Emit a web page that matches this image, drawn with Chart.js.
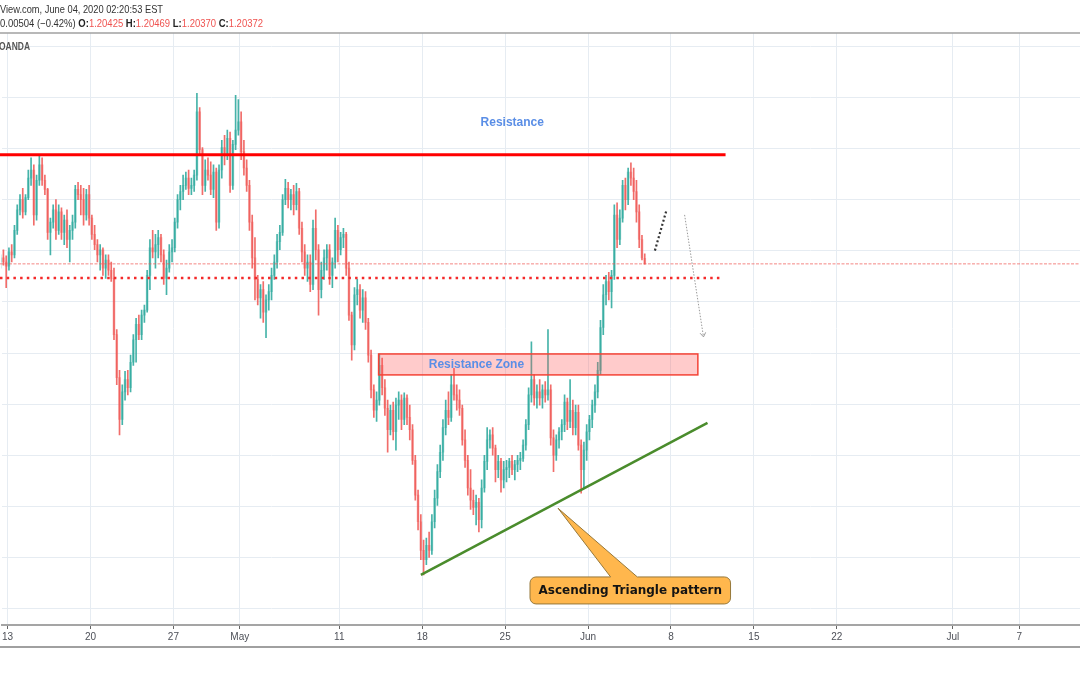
<!DOCTYPE html>
<html>
<head>
<meta charset="utf-8">
<title>GBP/CHF 4h – Ascending Triangle</title>
<script src="https://cdn.jsdelivr.net/npm/chart.js@4.4.1/dist/chart.umd.min.js"></script>
<style>
  html, body { margin: 0; padding: 0; background: #ffffff; }
  canvas { display: block; }
</style>
</head>
<body>
<canvas id="myChart" width="1080" height="675"></canvas>
<script>
/* globals Chart:false */
"use strict";

// 4-hour candles, six per trading day. Day 0 = Mon Apr 13 2020,
// first bar is the 4th session of Fri Apr 10 (day -1).
const firstDay = -1;
const firstSession = 3;
const sessionsPerDay = 6;

const opens = [
  1.2039, 1.2043, 1.2039,
  1.2035, 1.2049, 1.2046, 1.2070, 1.2090, 1.2100,
  1.2088, 1.2102, 1.2121, 1.2129, 1.2085, 1.2119,
  1.2134, 1.2119, 1.2110, 1.2068, 1.2078, 1.2090,
  1.2070, 1.2088, 1.2068, 1.2080, 1.2061, 1.2070,
  1.2078, 1.2110, 1.2105, 1.2100, 1.2085, 1.2105,
  1.2082, 1.2066, 1.2056, 1.2046, 1.2051, 1.2033,
  1.2041, 1.2031, 1.2023, 1.1968, 1.1926, 1.1885,
  1.1912, 1.1924, 1.1916, 1.1941, 1.1963, 1.1978,
  1.1968, 1.1987, 1.1992, 1.2026, 1.2053, 1.2049,
  1.2056, 1.2063, 1.2046, 1.2023, 1.2033, 1.2049,
  1.2053, 1.2078, 1.2100, 1.2108, 1.2114, 1.2121,
  1.2111, 1.2114, 1.2124, 1.2186, 1.2149, 1.2114,
  1.2129, 1.2124, 1.2110, 1.2127, 1.2078, 1.2129,
  1.2151, 1.2144, 1.2160, 1.2114, 1.2154, 1.2168,
  1.2176, 1.2147, 1.2131, 1.2114, 1.2078, 1.2043,
  1.2022, 1.2004, 1.2012, 1.1990, 1.2002, 1.2010,
  1.2026, 1.2039, 1.2059, 1.2068, 1.2100, 1.2111,
  1.2100, 1.2105, 1.2095, 1.2108, 1.2072, 1.2049,
  1.2033, 1.2039, 1.2017, 1.2072, 1.2051, 1.2012,
  1.2031, 1.2043, 1.2051, 1.2026, 1.2039, 1.2070,
  1.2051, 1.2063, 1.2066, 1.2033, 1.1987, 1.1958,
  1.2007, 1.2012, 1.1992, 1.2004, 1.1980, 1.1948,
  1.1914, 1.1894, 1.1904, 1.1938, 1.1916, 1.1896,
  1.1875, 1.1894, 1.1873, 1.1899, 1.1904, 1.1885,
  1.1906, 1.1887, 1.1875, 1.1845, 1.1811, 1.1785,
  1.1757, 1.1748, 1.1762, 1.1757, 1.1785, 1.1808,
  1.1834, 1.1853, 1.1877, 1.1894, 1.1887, 1.1919,
  1.1909, 1.1904, 1.1896, 1.1865, 1.1845, 1.1818,
  1.1806, 1.1799, 1.1804, 1.1787, 1.1818, 1.1844,
  1.1865, 1.1870, 1.1857, 1.1836, 1.1844, 1.1826,
  1.1836, 1.1838, 1.1844, 1.1836, 1.1841, 1.1845,
  1.1847, 1.1860, 1.1880, 1.1909, 1.1924, 1.1906,
  1.1912, 1.1906, 1.1914, 1.1909, 1.1914, 1.1867,
  1.1850, 1.1865, 1.1873, 1.1880, 1.1902, 1.1883,
  1.1894, 1.1877, 1.1892, 1.1860, 1.1836, 1.1855,
  1.1873, 1.1885, 1.1899, 1.1912, 1.1933, 1.1975,
  1.2007, 1.2020, 1.2010, 1.2026, 1.2085, 1.2061,
  1.2082, 1.2114, 1.2100, 1.2127, 1.2121, 1.2108,
  1.2088, 1.2061, 1.20425,
];

const highs = [
  1.2046, 1.2051, 1.2045,
  1.2053, 1.2056, 1.2075, 1.2095, 1.2105, 1.2111,
  1.2105, 1.2129, 1.2141, 1.2134, 1.2124, 1.2144,
  1.2141, 1.2124, 1.2111, 1.2082, 1.2095, 1.2100,
  1.2095, 1.2092, 1.2085, 1.2090, 1.2075, 1.2085,
  1.2114, 1.2117, 1.2114, 1.2111, 1.2110, 1.2114,
  1.2085, 1.2075, 1.2061, 1.2056, 1.2053, 1.2046,
  1.2046, 1.2039, 1.2033, 1.1973, 1.1933, 1.1919,
  1.1932, 1.1933, 1.1948, 1.1968, 1.1984, 1.1987,
  1.1992, 1.1997, 1.2031, 1.2061, 1.2070, 1.2066,
  1.2070, 1.2066, 1.2051, 1.2041, 1.2056, 1.2061,
  1.2082, 1.2105, 1.2114, 1.2124, 1.2127, 1.2129,
  1.2121, 1.2129, 1.2204, 1.2190, 1.2151, 1.2139,
  1.2141, 1.2137, 1.2134, 1.2131, 1.2134, 1.2158,
  1.2163, 1.2168, 1.2166, 1.2158, 1.2202, 1.2198,
  1.2186, 1.2158, 1.2139, 1.2119, 1.2085, 1.2063,
  1.2026, 1.2017, 1.2020, 1.2007, 1.2017, 1.2033,
  1.2046, 1.2066, 1.2075, 1.2105, 1.2120, 1.2117,
  1.2110, 1.2114, 1.2116, 1.2111, 1.2078, 1.2056,
  1.2046, 1.2046, 1.2080, 1.2090, 1.2056, 1.2039,
  1.2051, 1.2056, 1.2056, 1.2043, 1.2082, 1.2075,
  1.2068, 1.2072, 1.2068, 1.2039, 1.1990, 1.2014,
  1.2022, 1.2017, 1.2012, 1.2010, 1.1984, 1.1953,
  1.1919, 1.1912, 1.1949, 1.1945, 1.1924, 1.1904,
  1.1899, 1.1902, 1.1906, 1.1912, 1.1909, 1.1911,
  1.1909, 1.1899, 1.1880, 1.1850, 1.1816, 1.1792,
  1.1767, 1.1769, 1.1775, 1.1792, 1.1816, 1.1841,
  1.1860, 1.1885, 1.1904, 1.1912, 1.1929, 1.1935,
  1.1919, 1.1914, 1.1899, 1.1875, 1.1850, 1.1836,
  1.1816, 1.1811, 1.1808, 1.1826, 1.1850, 1.1877,
  1.1875, 1.1877, 1.1860, 1.1850, 1.1847, 1.1844,
  1.1845, 1.1847, 1.1850, 1.1845, 1.1850, 1.1853,
  1.1865, 1.1885, 1.1916, 1.1961, 1.1929, 1.1919,
  1.1924, 1.1919, 1.1922, 1.1973, 1.1919, 1.1875,
  1.1870, 1.1877, 1.1885, 1.1909, 1.1906, 1.1924,
  1.1904, 1.1899, 1.1899, 1.1865, 1.1863, 1.1880,
  1.1889, 1.1904, 1.1919, 1.1941, 1.1982, 1.2017,
  1.2026, 1.2029, 1.2031, 1.2095, 1.2097, 1.2090,
  1.2119, 1.2121, 1.2131, 1.2136, 1.2131, 1.2119,
  1.2095, 1.2065, 1.20469,
];

const lows = [
  1.2033, 1.2036, 1.2014,
  1.2031, 1.2039, 1.2043, 1.2066, 1.2085, 1.2082,
  1.2085, 1.2100, 1.2114, 1.2075, 1.2080, 1.2114,
  1.2114, 1.2105, 1.2061, 1.2046, 1.2072, 1.2061,
  1.2066, 1.2061, 1.2056, 1.2053, 1.2039, 1.2061,
  1.2072, 1.2100, 1.2085, 1.2075, 1.2080, 1.2075,
  1.2061, 1.2051, 1.2039, 1.2031, 1.2026, 1.2023,
  1.2026, 1.2020, 1.1963, 1.1919, 1.1870, 1.1880,
  1.1904, 1.1909, 1.1912, 1.1938, 1.1941, 1.1963,
  1.1963, 1.1980, 1.1990, 1.2012, 1.2043, 1.2033,
  1.2043, 1.2039, 1.2017, 1.2007, 1.2029, 1.2039,
  1.2049, 1.2072, 1.2090, 1.2100, 1.2110, 1.2105,
  1.2105, 1.2108, 1.2119, 1.2144, 1.2105, 1.2108,
  1.2119, 1.2105, 1.2102, 1.2070, 1.2072, 1.2121,
  1.2134, 1.2139, 1.2107, 1.2110, 1.2149, 1.2163,
  1.2139, 1.2124, 1.2108, 1.2070, 1.2033, 1.2002,
  1.1997, 1.1984, 1.1980, 1.1965, 1.1992, 1.2002,
  1.2022, 1.2033, 1.2051, 1.2065, 1.2095, 1.2092,
  1.2090, 1.2085, 1.2090, 1.2066, 1.2039, 1.2026,
  1.2020, 1.2010, 1.2012, 1.2041, 1.1987, 1.2004,
  1.2022, 1.2031, 1.2017, 1.2014, 1.2033, 1.2039,
  1.2046, 1.2053, 1.2026, 1.1982, 1.1943, 1.1953,
  1.1997, 1.1984, 1.1980, 1.1973, 1.1941, 1.1906,
  1.1887, 1.1883, 1.1899, 1.1909, 1.1889, 1.1853,
  1.1870, 1.1865, 1.1855, 1.1885, 1.1875, 1.1880,
  1.1880, 1.1865, 1.1841, 1.1806, 1.1777, 1.1748,
  1.1733, 1.1743, 1.1750, 1.1753, 1.1779, 1.1801,
  1.1828, 1.1845, 1.1870, 1.1880, 1.1883, 1.1904,
  1.1894, 1.1889, 1.1860, 1.1838, 1.1811, 1.1797,
  1.1792, 1.1782, 1.1775, 1.1779, 1.1814, 1.1836,
  1.1857, 1.1850, 1.1824, 1.1828, 1.1814, 1.1818,
  1.1824, 1.1828, 1.1831, 1.1826, 1.1834, 1.1836,
  1.1844, 1.1855, 1.1875, 1.1902, 1.1899, 1.1896,
  1.1899, 1.1896, 1.1902, 1.1904, 1.1860, 1.1834,
  1.1845, 1.1857, 1.1865, 1.1873, 1.1875, 1.1877,
  1.1870, 1.1870, 1.1855, 1.1813, 1.1818, 1.1845,
  1.1865, 1.1877, 1.1892, 1.1906, 1.1929, 1.1968,
  1.1997, 1.2002, 1.1994, 1.2022, 1.2053, 1.2056,
  1.2078, 1.2090, 1.2095, 1.2114, 1.2100, 1.2078,
  1.2053, 1.2041, 1.20370,
];

const closes = [
  1.2043, 1.2039, 1.2035,
  1.2049, 1.2046, 1.2070, 1.2090, 1.2100, 1.2088,
  1.2102, 1.2121, 1.2129, 1.2085, 1.2119, 1.2134,
  1.2119, 1.2110, 1.2068, 1.2078, 1.2090, 1.2070,
  1.2088, 1.2068, 1.2080, 1.2061, 1.2070, 1.2078,
  1.2110, 1.2105, 1.2100, 1.2085, 1.2105, 1.2082,
  1.2066, 1.2056, 1.2046, 1.2051, 1.2033, 1.2041,
  1.2031, 1.2023, 1.1968, 1.1926, 1.1885, 1.1912,
  1.1924, 1.1916, 1.1941, 1.1963, 1.1978, 1.1968,
  1.1987, 1.1992, 1.2026, 1.2053, 1.2049, 1.2056,
  1.2063, 1.2046, 1.2023, 1.2033, 1.2049, 1.2053,
  1.2078, 1.2100, 1.2108, 1.2114, 1.2121, 1.2111,
  1.2114, 1.2124, 1.2186, 1.2149, 1.2114, 1.2129,
  1.2124, 1.2110, 1.2127, 1.2078, 1.2129, 1.2151,
  1.2144, 1.2160, 1.2114, 1.2154, 1.2168, 1.2176,
  1.2147, 1.2131, 1.2114, 1.2078, 1.2043, 1.2022,
  1.2004, 1.2012, 1.1990, 1.2002, 1.2010, 1.2026,
  1.2039, 1.2059, 1.2068, 1.2100, 1.2111, 1.2100,
  1.2105, 1.2095, 1.2108, 1.2072, 1.2049, 1.2033,
  1.2039, 1.2017, 1.2072, 1.2051, 1.2012, 1.2031,
  1.2043, 1.2051, 1.2026, 1.2039, 1.2070, 1.2051,
  1.2063, 1.2066, 1.2033, 1.1987, 1.1958, 1.2007,
  1.2012, 1.1992, 1.2004, 1.1980, 1.1948, 1.1914,
  1.1894, 1.1904, 1.1938, 1.1916, 1.1896, 1.1875,
  1.1894, 1.1873, 1.1899, 1.1904, 1.1885, 1.1906,
  1.1887, 1.1875, 1.1845, 1.1811, 1.1785, 1.1757,
  1.1748, 1.1762, 1.1757, 1.1785, 1.1808, 1.1834,
  1.1853, 1.1877, 1.1894, 1.1887, 1.1919, 1.1909,
  1.1904, 1.1896, 1.1865, 1.1845, 1.1818, 1.1806,
  1.1799, 1.1804, 1.1787, 1.1818, 1.1844, 1.1865,
  1.1870, 1.1857, 1.1836, 1.1844, 1.1826, 1.1836,
  1.1838, 1.1844, 1.1836, 1.1841, 1.1845, 1.1847,
  1.1860, 1.1880, 1.1909, 1.1924, 1.1906, 1.1912,
  1.1906, 1.1914, 1.1909, 1.1914, 1.1867, 1.1850,
  1.1865, 1.1873, 1.1880, 1.1902, 1.1883, 1.1894,
  1.1877, 1.1892, 1.1860, 1.1836, 1.1855, 1.1873,
  1.1885, 1.1899, 1.1912, 1.1933, 1.1975, 1.2007,
  1.2020, 1.2010, 1.2026, 1.2085, 1.2061, 1.2082,
  1.2114, 1.2100, 1.2127, 1.2121, 1.2108, 1.2088,
  1.2061, 1.2043, 1.20372,
];

// x axis: trading-day index of each labelled tick
const tickDays = [0, 5, 10, 14, 20, 25, 30, 35, 40, 45, 50, 57, 61];
const tickLabels = ["13", "20", "27", "May", "11", "18", "25", "Jun", "8", "15", "22", "Jul", "7"];
const priceGrid = [1.170, 1.175, 1.180, 1.185, 1.190, 1.195, 1.200, 1.205, 1.210, 1.215, 1.220, 1.225];

// drawings (day index, price)
const resistanceLevel = 1.2144;
const supportLevel = 1.20235;
const zone = { from: 22.37, to: 41.62, top: 1.19491, bottom: 1.19286 };
const trendLine = [[24.92, 1.1733], [42.20, 1.18817]];
const bounceDots = [[39.03, 1.20502], [39.72, 1.20893]];
const dropArrow = [[40.82, 1.20851], [41.96, 1.19658]];
const callout = { left: 31.5, right: 43.59, top: 1.1731, bottom: 1.17046, tip: [33.19, 1.17982], base: [36.36, 37.97] };

const headerLine1 = "View.com, June 04, 2020 02:20:53 EST";
const headerChange = "0.00504 (\u22120.42%)";
const exchangeName = "OANDA";

(() => {
  const UP = "rgba(38,166,154,0.85)";
  const DOWN = "rgba(239,83,80,0.85)";
  const UP_BODY = "rgba(38,166,154,0.42)";
  const DOWN_BODY = "rgba(239,83,80,0.42)";
  const GRID = "#e6ecf2";

  const barDay = closes.map((_, i) => firstDay + (firstSession + i + 0.5) / sessionsPerDay);
  const isUp = closes.map((c, i) => c >= opens[i]);

  const bodies = {
    label: "body",
    data: closes.map((c, i) => ({ x: barDay[i], y: [opens[i], c] })),
    backgroundColor: isUp.map((u) => (u ? UP_BODY : DOWN_BODY)),
    barThickness: 2,
    minBarLength: 1,
    grouped: false,
  };
  const wicks = {
    label: "wick",
    data: closes.map((c, i) => ({ x: barDay[i], y: [lows[i], highs[i]] })),
    backgroundColor: isUp.map((u) => (u ? UP : DOWN)),
    barThickness: 1,
    grouped: false,
  };

  function line(ctx, x0, y0, x1, y1) {
    ctx.beginPath();
    ctx.moveTo(x0, y0);
    ctx.lineTo(x1, y1);
    ctx.stroke();
  }

  function squeezed(ctx, parts, x, y, width) {
    let total = 0;
    parts.forEach((p) => {
      ctx.font = p.font;
      total += ctx.measureText(p.text).width;
    });
    const sx = width / total;
    ctx.save();
    ctx.translate(x, y);
    ctx.scale(sx, 1);
    let cx = 0;
    parts.forEach((p) => {
      ctx.font = p.font;
      ctx.fillStyle = p.color;
      ctx.fillText(p.text, cx, 0);
      cx += ctx.measureText(p.text).width;
    });
    ctx.restore();
  }

  const drawings = {
    id: "drawings",
    afterDatasetsDraw(chart) {
      const { ctx, chartArea: area, scales, width } = chart;
      const X = (v) => scales.x.getPixelForValue(v);
      const Y = (v) => scales.y.getPixelForValue(v);
      ctx.save();
      ctx.beginPath();
      ctx.rect(0, area.top, width, area.bottom - area.top);
      ctx.clip();

      // last price line
      ctx.strokeStyle = "rgba(239,83,80,0.7)";
      ctx.lineWidth = 1;
      ctx.setLineDash([3, 1.5]);
      const lp = Y(closes[closes.length - 1]);
      line(ctx, 0, lp, width, lp);

      // support dotted line
      ctx.strokeStyle = "#f42a2a";
      ctx.lineWidth = 2.5;
      ctx.setLineDash([2.5, 4.2]);
      line(ctx, 0, Y(supportLevel), X(43.11), Y(supportLevel));

      // resistance
      ctx.setLineDash([]);
      ctx.strokeStyle = "#ff0000";
      ctx.lineWidth = 3;
      line(ctx, 0, Y(resistanceLevel), X(43.29), Y(resistanceLevel));

      // resistance zone
      const zl = X(zone.from), zr = X(zone.to), zt = Y(zone.top), zb = Y(zone.bottom);
      ctx.fillStyle = "rgba(255,82,82,0.3)";
      ctx.fillRect(zl, zt, zr - zl, zb - zt);
      ctx.strokeStyle = "#f44336";
      ctx.lineWidth = 1.5;
      ctx.strokeRect(zl, zt, zr - zl, zb - zt);

      // ascending trend line
      ctx.strokeStyle = "#4a8c2c";
      ctx.lineWidth = 2.5;
      line(ctx, X(trendLine[0][0]), Y(trendLine[0][1]), X(trendLine[1][0]), Y(trendLine[1][1]));

      // small bounce path
      ctx.strokeStyle = "#333333";
      ctx.lineWidth = 2.2;
      ctx.setLineDash([2, 2.3]);
      line(ctx, X(bounceDots[0][0]), Y(bounceDots[0][1]), X(bounceDots[1][0]), Y(bounceDots[1][1]));

      // projected drop arrow
      const ax0 = X(dropArrow[0][0]), ay0 = Y(dropArrow[0][1]);
      const ax1 = X(dropArrow[1][0]), ay1 = Y(dropArrow[1][1]);
      ctx.strokeStyle = "#9a9a9a";
      ctx.lineWidth = 1;
      ctx.setLineDash([1.5, 1.5]);
      line(ctx, ax0, ay0, ax1, ay1);
      ctx.setLineDash([]);
      const ang = Math.atan2(ay1 - ay0, ax1 - ax0);
      [0.6, -0.6].forEach((da) => {
        line(ctx, ax1, ay1, ax1 - 5 * Math.cos(ang + da), ay1 - 5 * Math.sin(ang + da));
      });

      // labels
      ctx.fillStyle = "#5a8ee6";
      ctx.font = "bold 12px 'Liberation Sans', Arial, sans-serif";
      ctx.textAlign = "center";
      ctx.textBaseline = "middle";
      ctx.fillText("Resistance", X(30.43), Y(1.21751));
      ctx.fillText("Resistance Zone", X(28.27), Y(1.1939));

      // callout
      const l = X(callout.left), r = X(callout.right), t = Y(callout.top), b = Y(callout.bottom);
      const rad = 6;
      ctx.beginPath();
      ctx.moveTo(l + rad, t);
      ctx.lineTo(X(callout.base[0]), t);
      ctx.lineTo(X(callout.tip[0]), Y(callout.tip[1]));
      ctx.lineTo(X(callout.base[1]), t);
      ctx.arcTo(r, t, r, b, rad);
      ctx.arcTo(r, b, l, b, rad);
      ctx.arcTo(l, b, l, t, rad);
      ctx.arcTo(l, t, r, t, rad);
      ctx.closePath();
      ctx.fillStyle = "#ffb74d";
      ctx.fill();
      ctx.strokeStyle = "#96783a";
      ctx.lineWidth = 1;
      ctx.stroke();
      ctx.fillStyle = "#131313";
      ctx.font = "bold 12px 'DejaVu Sans', Verdana, sans-serif";
      ctx.fillText("Ascending Triangle pattern", (l + r) / 2, (t + b) / 2 + 0.5);
      ctx.restore();
    },
    afterDraw(chart) {
      const { ctx, chartArea: area, width } = chart;
      ctx.save();
      ctx.strokeStyle = "#a0a0a0";
      ctx.lineWidth = 1.5;
      line(ctx, 0, area.top, width, area.top);
      ctx.lineWidth = 2;
      line(ctx, 0, 647, width, 647);

      ctx.textAlign = "left";
      ctx.textBaseline = "alphabetic";
      const reg = "11px 'Liberation Sans', Arial, sans-serif";
      const bold = "bold 11px 'Liberation Sans', Arial, sans-serif";
      squeezed(ctx, [{ text: headerLine1, font: reg, color: "#333333" }], 0, 13, 163);

      const last = closes.length - 1;
      const fmt = (v) => v.toFixed(5);
      squeezed(ctx, [
        { text: headerChange + " ", font: reg, color: "#333333" },
        { text: "O:", font: bold, color: "#222222" },
        { text: fmt(opens[last]) + " ", font: reg, color: "#ef5350" },
        { text: "H:", font: bold, color: "#222222" },
        { text: fmt(highs[last]) + " ", font: reg, color: "#ef5350" },
        { text: "L:", font: bold, color: "#222222" },
        { text: fmt(lows[last]) + " ", font: reg, color: "#ef5350" },
        { text: "C:", font: bold, color: "#222222" },
        { text: fmt(closes[last]), font: reg, color: "#ef5350" },
      ], 0, 27, 263);

      squeezed(ctx, [{ text: exchangeName, font: "bold 10px 'Liberation Sans', Arial, sans-serif", color: "#555555" }], -1, 49.5, 31);
      ctx.restore();
    },
  };

  const ctx = document.getElementById("myChart");
  // eslint-disable-next-line no-unused-vars
  const myChart = new Chart(ctx, {
    type: "bar",
    data: { datasets: [bodies, wicks] },
    options: {
      responsive: false,
      animation: false,
      devicePixelRatio: 1,
      layout: { padding: { top: 33, left: 0, right: 0, bottom: 0 }, autoPadding: false },
      plugins: {
        legend: { display: false },
        tooltip: { enabled: false },
      },
      scales: {
        x: {
          type: "linear",
          min: -0.361,
          max: 64.66,
          offset: false,
          grid: { color: GRID, offset: false, tickLength: 4, tickColor: "#666666" },
          border: { color: "#a5a5a5", width: 2 },
          ticks: {
            autoSkip: false,
            maxRotation: 0,
            padding: 2,
            color: "#4c4f57",
            font: { family: "'Liberation Sans Narrow', 'Liberation Sans', Arial, sans-serif", size: 10 },
            callback: (value, index) => tickLabels[index],
          },
          afterBuildTicks: (scale) => {
            scale.ticks = tickDays.map((v) => ({ value: v }));
          },
          afterFit: (scale) => {
            scale.height = 50;
          },
        },
        y: {
          min: 1.1684,
          max: 1.2263,
          grid: { color: GRID, drawTicks: false },
          border: { display: false },
          ticks: { display: false },
          afterBuildTicks: (scale) => {
            scale.ticks = priceGrid.map((v) => ({ value: v }));
          },
          afterFit: (scale) => {
            scale.width = 0;
          },
        },
      },
    },
    plugins: [drawings],
  });
})();
</script>
</body>
</html>
